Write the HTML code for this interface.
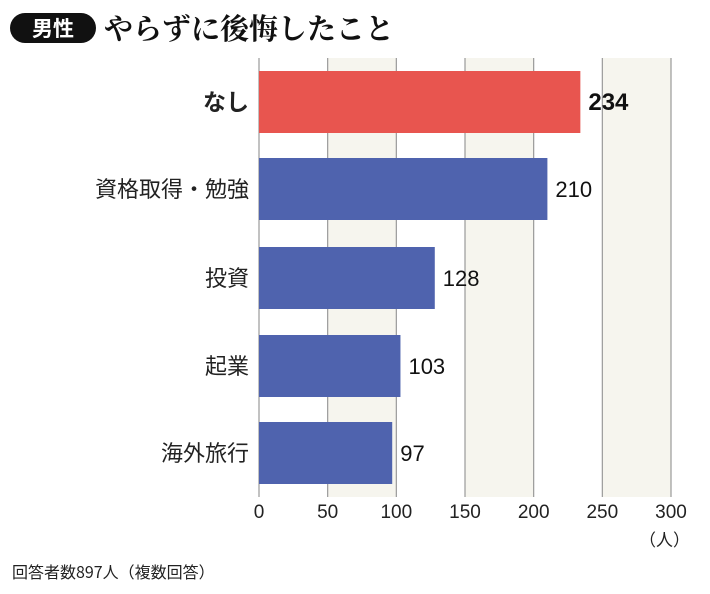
<!DOCTYPE html>
<html><head><meta charset="utf-8"><style>
body{margin:0;background:#fff;width:710px;height:589px;overflow:hidden;font-family:"Liberation Sans","Noto Sans CJK JP",sans-serif;}
</style></head><body>
<svg width="710" height="589" xmlns="http://www.w3.org/2000/svg">
<rect x="10" y="13" width="86" height="30" rx="15" fill="#111"/>
<text x="53" y="36" text-anchor="middle" font-size="21" font-weight="bold" fill="#fff" font-family="Noto Sans CJK JP,sans-serif">男性</text>
<text x="104" y="39" font-size="29" font-weight="bold" fill="#111" font-family="Noto Serif CJK SC,serif">やらずに後悔したこと</text>
<g id="grid"></g>
<g id="bars"></g>
<g id="ticks"></g>
<text x="690" y="546" text-anchor="end" font-size="17" fill="#222" font-family="Noto Sans CJK JP,sans-serif">（人）</text>
<text x="12" y="578" font-size="16" fill="#222" font-family="Noto Sans CJK JP,sans-serif">回答者数897人（複数回答）</text>
</svg>
<script>
const categories=["なし","資格取得・勉強","投資","起業","海外旅行"];
const values=[234,210,128,103,97];
const ticks=[0,50,100,150,200,250,300];
const NS="http://www.w3.org/2000/svg";
const x0=259,x1=671,vmax=300,plotTop=58,plotBottom=497;
const xs=v=>x0+(x1-x0)*v/vmax;
const rowY=[71,158,247,335,422],barH=62;
function mk(t,a,p){const e=document.createElementNS(NS,t);for(const k in a)e.setAttribute(k,a[k]);p.appendChild(e);return e;}
const g=document.getElementById('grid'),b=document.getElementById('bars'),tk=document.getElementById('ticks');
for(let i=0;i<ticks.length-1;i++){if(i%2==1){const r=mk('rect',{x:xs(ticks[i]),y:plotTop,width:xs(ticks[i+1])-xs(ticks[i]),height:plotBottom-plotTop,fill:'#f6f5ee'},g);

}}
ticks.forEach(t=>{const l=mk('line',{x1:xs(t),x2:xs(t),y1:plotTop,y2:plotBottom,stroke:'#999','stroke-width':1.2},g);


const tx=mk('text',{x:xs(t),y:518,'text-anchor':'middle','font-size':19,fill:'#222'},tk);tx.textContent=t;

});
categories.forEach((c,i)=>{const y=rowY[i];
const r=mk('rect',{x:x0,y:y,width:xs(values[i])-x0,height:barH,fill:i==0?'#e8554f':'#4f63ae'},b);


const lb=mk('text',{x:249,y:y+barH/2+8,'text-anchor':'end','font-size':i==0?23:22,'font-weight':i==0?'bold':'normal',fill:'#222','font-family':'Noto Sans CJK JP,sans-serif'},b);lb.textContent=c;


const vl=mk('text',{x:xs(values[i])+8,y:y+barH/2+8,'font-size':i==0?24:22,'font-weight':i==0?'bold':'normal',fill:'#111'},b);vl.textContent=values[i];

});
</script>
</body></html>
